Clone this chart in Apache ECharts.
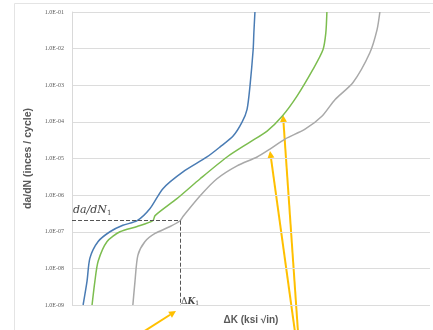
<!DOCTYPE html>
<html><head><meta charset="utf-8">
<script src="https://cdn.jsdelivr.net/npm/echarts@6/dist/echarts.min.js"></script>
<style>html,body{margin:0;padding:0;background:#fff}#c{width:433px;height:330px}</style>
</head><body><div id="c"></div>
<script>
// ΔK (relative units, axis unlabeled) and da/dN (inches / cycle)
const blueX = [3.1,4.2,5.0,7.3,10.6,14.2,18.2,21.8,25.4,31.0,37.7,41.3,45.0,47.5,48.9,49.7,50.6,50.8,51.1];
const blueY = [1e-9,4.5e-9,1.9e-8,5.4e-8,1.0e-7,1.5e-7,2.0e-7,4.3e-7,1.5e-6,4.3e-6,1.1e-5,2.05e-5,4.1e-5,9.8e-5,2.2e-4,9.2e-4,9.3e-3,2.7e-2,1e-1];
const greenX = [5.6,6.4,7.3,9.8,13.4,18.2,22.6,23.2,29.3,35.8,43.3,49.7,54.5,58.7,62.8,67.3,70.1,70.9,71.2];
const greenY = [1e-9,4.5e-9,1.56e-8,5.4e-8,1.0e-7,1.39e-7,2.0e-7,2.76e-7,8.0e-7,2.8e-6,1.1e-5,2.8e-5,5.6e-5,1.42e-4,4.95e-4,2.7e-3,9.3e-3,2.7e-2,1e-1];
const grayX = [17.0,17.6,18.4,20.4,23.2,27.4,30.2,31.0,35.8,40.5,46.1,51.7,55.3,59.5,65.1,69.8,73.5,78.5,83.2,85.2,86.0];
const grayY = [1e-9,4.5e-9,2.27e-8,5.4e-8,8.97e-8,1.39e-7,2.0e-7,2.6e-7,9.6e-7,2.8e-6,6.3e-6,1.1e-5,1.81e-5,3.4e-5,6.3e-5,1.42e-4,4.1e-4,1.19e-3,7.7e-3,3.25e-2,1e-1];
const dK1 = 30.2;
const dadN1 = 2.0e-7;
const yTitle = 'da/dN (inces / cycle)';
const xTitle = 'ΔK (ksi √in)';

const zip = (xs, ys) => xs.map((x, i) => [x, ys[i]]);
function fmt(v){
  const e = Math.round(Math.log10(v));
  const s = e < 0 ? '-' : '+';
  const a = Math.abs(e);
  return '1.0E' + s + (a < 10 ? '0' + a : a);
}
function arrow(x1,y1,x2,y2){
  const dx=x2-x1, dy=y2-y1, L=Math.hypot(dx,dy), ux=dx/L, uy=dy/L;
  const h=7, w=3.5, bx=x2-ux*h, by=y2-uy*h;
  return [
    {type:'line', shape:{x1:x1,y1:y1,x2:bx,y2:by}, style:{stroke:'#FFC000', lineWidth:2}},
    {type:'polygon', shape:{points:[[x2,y2],[bx-uy*w,by+ux*w],[bx+uy*w,by-ux*w]]}, style:{fill:'#FFC000'}}
  ];
}
const chart = echarts.init(document.getElementById('c'));
const lineStyle = c => ({color:c, width:1.5});
chart.setOption({
  animation:false,
  backgroundColor:'#fff',
  grid:{left:72, right:3, top:12, bottom:23},
  xAxis:{type:'value', min:0, max:100, axisLabel:{show:false}, axisTick:{show:false},
    axisLine:{show:false}, splitLine:{show:false},
    name:xTitle, nameLocation:'middle', nameGap:10,
    nameTextStyle:{fontSize:10, fontWeight:'bold', color:'#595959', fontFamily:'Liberation Sans'}},
  yAxis:{type:'log', logBase:10, min:1e-9, max:1e-1, splitNumber:8,
    axisLine:{show:true, lineStyle:{color:'#d9d9d9'}}, axisTick:{show:false},
    splitLine:{lineStyle:{color:'#dcdcdc', width:1}},
    axisLabel:{formatter:fmt, fontSize:6, color:'#595959', margin:8, fontFamily:'Liberation Serif'},
    name:yTitle, nameLocation:'middle', nameGap:36, nameRotate:90,
    nameTextStyle:{fontSize:10.5, fontWeight:'bold', color:'#595959', fontFamily:'Liberation Sans'}},
  series:[
    {type:'line', data:zip(blueX, blueY), symbol:'none', smooth:0.25, lineStyle:lineStyle('#4a7cb4')},
    {type:'line', data:zip(greenX, greenY), symbol:'none', smooth:0.25, lineStyle:lineStyle('#7cbd4f')},
    {type:'line', data:zip(grayX, grayY), symbol:'none', smooth:0.25, lineStyle:lineStyle('#a9a9a9'),
      markLine:{symbol:'none', silent:true, label:{show:false},
        lineStyle:{type:'dashed', color:'#555', width:1},
        data:[
          [{coord:[0, dadN1]}, {coord:[dK1, dadN1]}],
          [{coord:[dK1, dadN1]}, {coord:[dK1, 1e-9]}]
        ]}}
  ],
  graphic:[
    {type:'rect', shape:{x:14.5, y:3.5, width:440, height:340}, style:{fill:'none', stroke:'#e4e4e4', lineWidth:1}, z:-1},
    {type:'text', left:73, top:205, style:{
      text:'{i|da/dN}{s|1}', rich:{
        i:{fontFamily:'DejaVu Serif', fontStyle:'italic', fontSize:11, fill:'#444'},
        s:{fontFamily:'DejaVu Serif', fontSize:7, fill:'#444', padding:[5,0,0,0]}}}},
    {type:'text', left:181, top:297, style:{
      text:'{n|Δ}{i|K}{s|1}', rich:{
        n:{fontFamily:'DejaVu Serif', fontSize:9, fill:'#444'},
        i:{fontFamily:'DejaVu Serif', fontStyle:'italic', fontWeight:'bold', fontSize:9, fill:'#444'},
        s:{fontFamily:'DejaVu Serif', fontSize:6, fill:'#444', padding:[4,0,0,0]}}}}
  ].concat(arrow(143,332,176,311), arrow(295,332,270,151), arrow(298,332,283,115))
});
</script></body></html>
